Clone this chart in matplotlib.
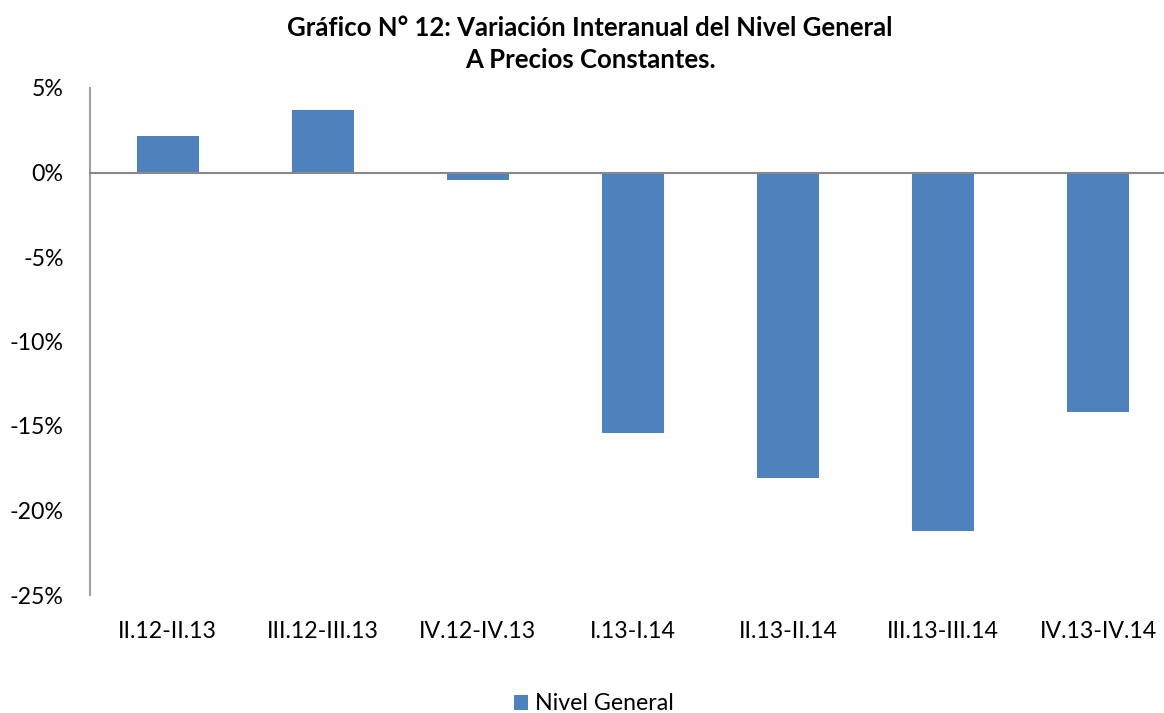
import matplotlib
matplotlib.use("Agg")
import matplotlib.pyplot as plt
from matplotlib.ticker import FuncFormatter
from matplotlib.patches import Patch
import matplotlib.transforms as mtransforms

categories = ["II.12-II.13", "III.12-III.13", "IV.12-IV.13", "I.13-I.14",
              "II.13-II.14", "III.13-III.14", "IV.13-IV.14"]
values = [2.15, 3.7, -0.45, -15.4, -18.1, -21.2, -14.15]
yticks = [5, 0, -5, -10, -15, -20, -25]
series_name = "Nivel General"
title = "Gráfico N° 12: Variación Interanual del Nivel General\nA Precios Constantes."

plt.rcParams['font.family'] = ['Lato', 'DejaVu Sans']

fig = plt.figure(figsize=(11.64, 7.13), dpi=100)
ax = fig.add_axes([90/1164, 1-595/713, 1086/1164, (595-88)/713])

color = "#4F81BD"
x = range(len(categories))
ax.bar(x, values, width=0.4, color=color, zorder=2)

ax.set_ylim(-25, 5)
ax.set_xlim(-0.5, len(categories)-0.5)
ax.set_yticks(yticks)
ax.yaxis.set_major_formatter(FuncFormatter(lambda v, p: f"{int(v)}%"))
ax.set_xticks(list(x))
ax.set_xticklabels(categories)

for s in ["top", "right"]:
    ax.spines[s].set_visible(False)
ax.spines["bottom"].set_position(("data", 0))
ax.spines["bottom"].set_color("#888888")
ax.spines["left"].set_color("#A0A0A0")
ax.spines["bottom"].set_linewidth(1.5)
ax.spines["left"].set_linewidth(1.5)
ax.spines["bottom"].set_zorder(3)

ax.tick_params(axis="y", length=0, labelsize=16.7, pad=19)
ax.tick_params(axis="x", length=0, labelsize=16.7, pad=0)
for lbl in ax.get_xticklabels():
    lbl.set_transform(mtransforms.blended_transform_factory(ax.transData, fig.transFigure))
    lbl.set_position((lbl.get_position()[0], 1-631/713))
    lbl.set_verticalalignment("center")

fig.text(590/1164, 1-44/713, title, ha="center", va="center",
         fontsize=18.5, fontweight="bold", linespacing=1.42)

handles = [Patch(facecolor=color, label=series_name)]
fig.legend(handles=handles, loc="center", bbox_to_anchor=(594/1164, 1-704/713),
           frameon=False, fontsize=16.7, handlelength=0.6, handleheight=0.6,
           handletextpad=0.3)

fig.savefig("out.png", dpi=100)
